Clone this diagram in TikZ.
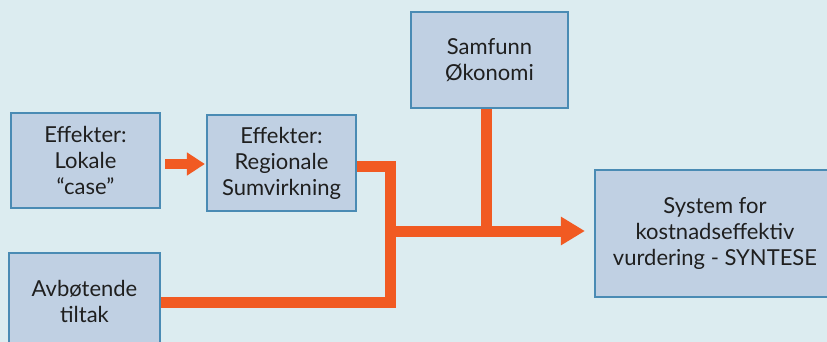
\documentclass[tikz,border=0pt]{standalone}
\usepackage{fontspec}
\setmainfont{Lato}
\usetikzlibrary{arrows.meta}
\definecolor{bgblue}{HTML}{DCECF0}
\definecolor{boxfill}{HTML}{C0D0E3}
\definecolor{boxedge}{HTML}{4A8BB4}
\definecolor{flow}{HTML}{F15A22}
\begin{document}
\begin{tikzpicture}[x=1pt,y=-1pt,
  blk/.style={draw=boxedge, line width=2.2pt, fill=boxfill, align=center,
    inner sep=0pt, font=\fontsize{22}{26}\selectfont, text=black!88},
  flowline/.style={draw=flow, line width=11pt, line join=miter},
  flowarrow/.style={flowline, -{Triangle[width=27pt,length=24pt]}}]
  \useasboundingbox (0,0) rectangle (827,342);
  \fill[bgblue] (0,0) rectangle (827,342);

  \node[blk, minimum width=149pt, minimum height=95pt] (lok) at (85.5,160.5)
    {Effekter:\\Lokale\\``case''};
  \node[blk, minimum width=149pt, minimum height=96pt] (reg) at (281.5,163)
    {Effekter:\\Regionale\\Sumvirkning};
  \node[blk, minimum width=151pt, minimum height=97pt] (avb) at (84.5,301.5)
    {Avbøtende\\tiltak};
  \node[blk, minimum width=157pt, minimum height=96pt] (sam) at (489.5,60)
    {Samfunn\\Økonomi};
  \node[blk, minimum width=240pt, minimum height=127pt] (sys) at (715,233.5)
    {System for\\kostnadseffektiv\\vurdering - SYNTESE};

  % junction where the flows meet
  \coordinate (j) at (390,231);

  % local effects feed the regional effects
  \draw[flowline, -{Triangle[width=22pt,length=18pt]}, line width=10pt,
        shorten <=4pt, shorten >=1pt]
    (lok.east |- 0,164) -- (reg.west |- 0,164);

  % regional effects and mitigation join at the junction
  \draw[flowline] (reg.east |- 0,166) -- (j |- 0,166) -- (j |- 0,302) -- (avb.east |- 0,302);
  % economy drops into the main flow
  \draw[flowline] (sam.south -| 486,0) -- (486,231);
  % main flow into the synthesis
  \draw[flowarrow, shorten >=9pt] (j) -- (j -| sys.west);
\end{tikzpicture}
\end{document}
